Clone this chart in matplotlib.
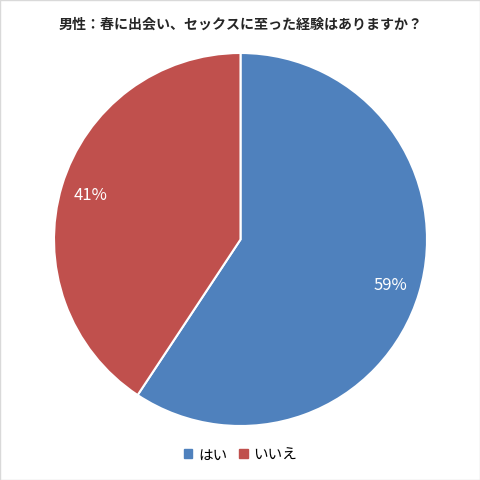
import matplotlib
matplotlib.use('Agg')
import matplotlib.pyplot as plt
from matplotlib.patches import Rectangle, Patch

plt.rcParams['font.family'] = ['Noto Sans CJK JP', 'DejaVu Sans']

title = '男性：春に出会い、セックスに至った経験はありますか？'
labels = ['はい', 'いいえ']
values = [59.3, 40.7]
colors = ['#4F81BD', '#C0504D']

fig = plt.figure(figsize=(4.81, 4.81), dpi=100)
fig.patches.append(Rectangle((0.001, 0.001), 0.997, 0.997, transform=fig.transFigure,
                             fill=False, edgecolor='#D9D9D9', linewidth=1))

w = 373 / 481
ax = fig.add_axes([0.5 - w / 2, 0.5 - w / 2, w, w])
wedges, texts, autotexts = ax.pie(values, colors=colors, startangle=90, counterclock=False,
                                  autopct=lambda p: '{:.0f}%'.format(p), pctdistance=0.84,
                                  radius=1,
                                  wedgeprops=dict(edgecolor='white', linewidth=1.5),
                                  textprops=dict(color='white', fontsize=12))
ax.set_xlim(-1, 1)
ax.set_ylim(-1, 1)
ax.set_aspect('equal')
ax.axis('off')

fig.text(0.5, 1 - 25 / 481, title, ha='center', va='center', fontsize=10.1,
         fontweight='bold', color='#262626')

handles = [Patch(facecolor=c, edgecolor=c) for c in colors]
fig.legend(handles, labels, loc='center', bbox_to_anchor=(0.5, 1 - 456 / 481), ncol=2,
           frameon=False, fontsize=10.5, handlelength=0.6, handleheight=0.6,
           handletextpad=0.4, columnspacing=0.8)

fig.savefig('out.png', dpi=100)
